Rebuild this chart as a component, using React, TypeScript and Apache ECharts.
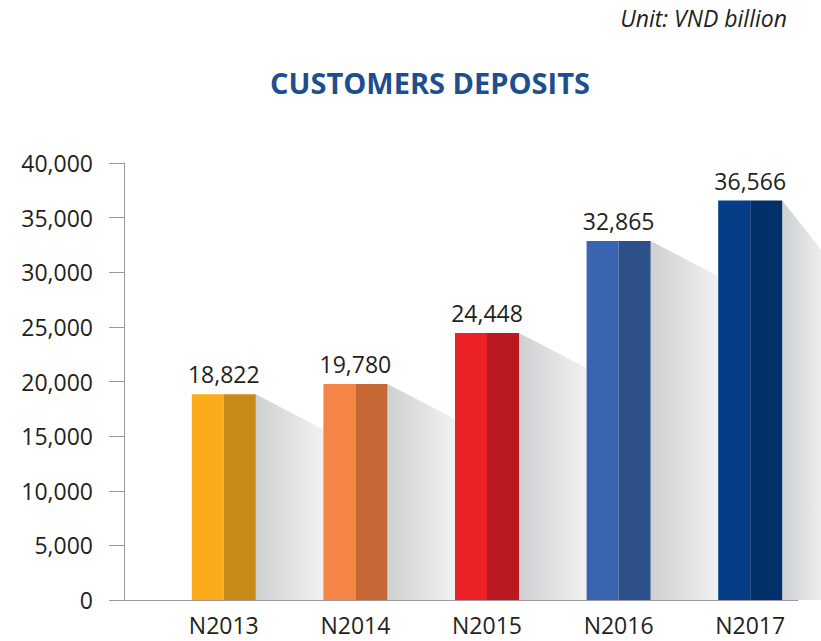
import React, { useEffect, useRef } from "react";
import * as echarts from "echarts";

const categories = ["N2013", "N2014", "N2015", "N2016", "N2017"];
const deposits = [18822, 19780, 24448, 32865, 36566];
const yTicks = [0, 5000, 10000, 15000, 20000, 25000, 30000, 35000, 40000];
const lightColors = ["#FBAA19", "#F48546", "#EC2027", "#3A64B0", "#053D87"];
const darkColors = ["#C78A16", "#C56835", "#B91A21", "#2D4F8A", "#03306A"];

const FONT = "'Open Sans', 'Noto Sans', sans-serif";
const fmt = (v: number) => v.toLocaleString("en-US");

export default function App() {
  const ref = useRef<HTMLDivElement>(null);
  useEffect(() => {
    if (!ref.current) return;
    const chart = echarts.init(ref.current, null, { renderer: "svg" });
    const n = categories.length;
    const option: any = {
      animation: false,
      backgroundColor: "#ffffff",
      grid: [
        { left: 124, right: 23, top: 163, bottom: 41 },
        { left: 158, right: 5, top: 163, bottom: 41 },
      ],
      xAxis: [
        {
          gridIndex: 0,
          type: "value",
          min: 0,
          max: 1,
          axisLine: { show: true, lineStyle: { color: "#9a9a9a", width: 1 } },
          axisTick: { show: false },
          axisLabel: { show: false },
          splitLine: { show: false },
        },
        {
          gridIndex: 1,
          type: "category",
          data: categories,
          axisLine: { show: false },
          axisTick: { show: false },
          axisLabel: {
            fontFamily: FONT,
            fontSize: 23,
            color: "#231f20",
            margin: 13,
          },
        },
      ],
      yAxis: [
        {
          gridIndex: 0,
          type: "value",
          min: yTicks[0],
          max: yTicks[yTicks.length - 1],
          interval: yTicks[1] - yTicks[0],
          axisLine: { show: true, lineStyle: { color: "#9a9a9a", width: 1 } },
          axisTick: { show: true, length: 15, lineStyle: { color: "#9a9a9a" } },
          axisLabel: {
            fontFamily: FONT,
            fontSize: 23,
            color: "#231f20",
            margin: 31,
            formatter: (v: number) => fmt(v),
          },
          splitLine: { show: false },
        },
        {
          gridIndex: 1,
          type: "value",
          min: yTicks[0],
          max: yTicks[yTicks.length - 1],
          show: false,
          splitLine: { show: false },
        },
      ],
      series: [
        {
          type: "custom",
          xAxisIndex: 1,
          yAxisIndex: 1,
          data: deposits.map((v, i) => [i, v]),
          renderItem: (params: any, api: any) => {
            const idx = api.value(0);
            const val = api.value(1);
            const top = api.coord([idx, val]);
            const base = api.coord([idx, 0]);
            const band = api.size([1, 0])[0];
            const bw = 64;
            const x0 = top[0] - bw / 2;
            const xr = top[0] + bw / 2;
            const isLast = idx === n - 1;
            const cs = params.coordSys;
            const w = isLast ? cs.x + cs.width + 10 - xr : band - bw;
            const slope = isLast ? 1.26 : 0.52;
            const h = base[1] - top[1];
            return {
              type: "group",
              children: [
                {
                  type: "polygon",
                  shape: {
                    points: [
                      [xr, top[1]],
                      [xr + w, top[1] + w * slope],
                      [xr + w, base[1]],
                      [xr, base[1]],
                    ],
                  },
                  style: {
                    fill: new echarts.graphic.LinearGradient(0, 0, 1, 0, [
                      { offset: 0, color: "#cfd0d2" },
                      { offset: 1, color: "#f1f1f1" },
                    ]),
                  },
                },
                {
                  type: "rect",
                  shape: { x: x0, y: top[1], width: bw / 2, height: h },
                  style: { fill: lightColors[idx] },
                },
                {
                  type: "rect",
                  shape: { x: x0 + bw / 2, y: top[1], width: bw / 2, height: h },
                  style: { fill: darkColors[idx] },
                },
                {
                  type: "text",
                  style: {
                    text: fmt(val),
                    x: top[0],
                    y: top[1] - 20,
                    align: "center",
                    verticalAlign: "middle",
                    fontFamily: FONT,
                    fontSize: 23,
                    fill: "#231f20",
                  },
                },
              ],
            };
          },
        },
      ],
      graphic: [
        {
          type: "text",
          x: 430,
          y: 82,
          style: {
            text: "CUSTOMERS DEPOSITS",
            align: "center",
            verticalAlign: "middle",
            fontFamily: FONT,
            fontWeight: "bold",
            fontSize: 29,
            fill: "#1F4E8F",
          },
        },
        {
          type: "text",
          x: 787,
          y: 18,
          style: {
            text: "Unit: VND billion",
            align: "right",
            verticalAlign: "middle",
            fontFamily: FONT,
            fontStyle: "italic",
            fontSize: 23,
            fill: "#231f20",
          },
        },
      ],
    };
    chart.setOption(option);
    return () => chart.dispose();
  }, []);
  return (
    <div
      ref={ref}
      style={{ position: "absolute", left: 0, top: 0, width: 821, height: 641 }}
    />
  );
}
